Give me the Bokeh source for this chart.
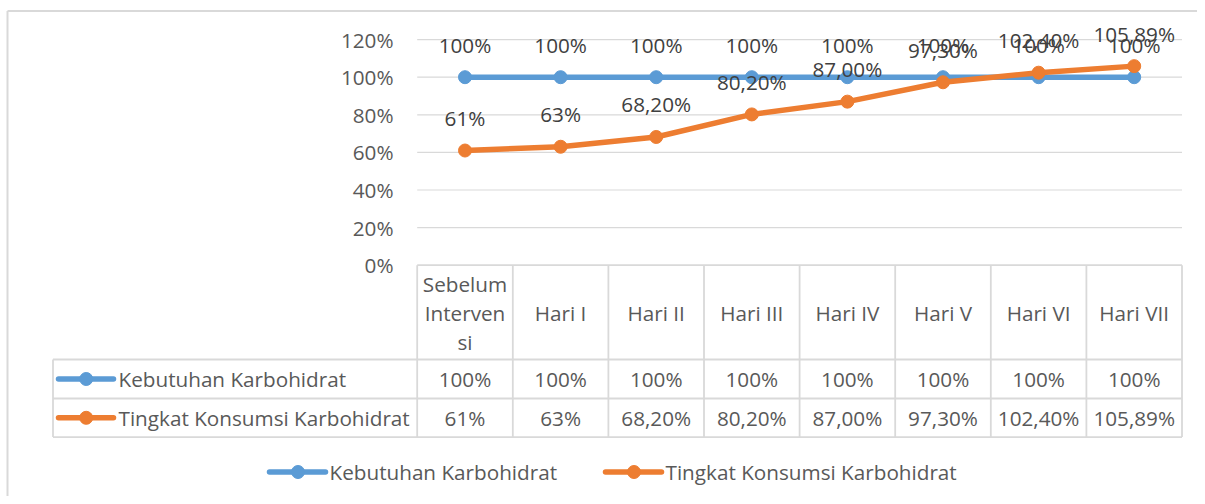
from bokeh.plotting import figure
from bokeh.models import Range1d
from bokeh.core.properties import value
from bokeh.embed import file_html
from bokeh.resources import INLINE

# ---------------- data ----------------
categories = ["Sebelum\nInterven\nsi", "Hari I", "Hari II", "Hari III",
              "Hari IV", "Hari V", "Hari VI", "Hari VII"]
series_names = ["Kebutuhan Karbohidrat", "Tingkat Konsumsi Karbohidrat"]
kebutuhan = [100, 100, 100, 100, 100, 100, 100, 100]
konsumsi = [61, 63, 68.2, 80.2, 87.0, 97.3, 102.4, 105.89]
kebutuhan_labels = ["100%", "100%", "100%", "100%", "100%", "100%", "100%", "100%"]
konsumsi_labels = ["61%", "63%", "68,20%", "80,20%", "87,00%", "97,30%", "102,40%", "105,89%"]
y_ticks = [0, 20, 40, 60, 80, 100, 120]
y_tick_labels = ["0%", "20%", "40%", "60%", "80%", "100%", "120%"]
colors = ["#5B9BD5", "#ED7D31"]

# ---------------- layout (canvas pixels) ----------------
W, H = 1197, 496
X0, CW = 464.5, 95.6      # centre of first category, category width
Y0, PPU = 264.7, 1.88     # pixel of 0 %, pixels per percent
FONT = value("Open Sans")
FS = "20.7px"
TXT = "#595959"
LBL = "#404040"
GRID = "#D9D9D9"


def px2x(px):
    return (px - X0) / CW


def px2y(py):
    return (Y0 - py) / PPU


p = figure(width=W, height=H, output_backend="svg",
           toolbar_location=None, x_axis_type=None, y_axis_type=None,
           x_range=Range1d(px2x(0), px2x(W)),
           y_range=Range1d(px2y(H), px2y(0)),
           min_border=0, outline_line_color=None)
p.xgrid.visible = False
p.ygrid.visible = False

n = len(categories)
idx = list(range(n))
left_cat, right_cat = -0.5, n - 0.5

# chart outer border
p.segment(x0=[px2x(7), px2x(7)], y0=[px2y(10.5), px2y(10.5)],
          x1=[px2x(W), px2x(7)], y1=[px2y(10.5), px2y(H)],
          line_color=GRID, line_width=2)

# gridlines
gy = [t for t in y_ticks if t > 0]
p.segment(x0=[left_cat] * len(gy), y0=gy, x1=[right_cat] * len(gy), y1=gy,
          line_color=GRID, line_width=1.2)

# table
head_bot, row1_bot, row2_bot = px2y(359), px2y(398), px2y(436.6)
tab_left = px2x(52.5)
hx0 = [left_cat, tab_left, tab_left, tab_left]
hy = [0, head_bot, row1_bot, row2_bot]
hx1 = [right_cat] * 4
p.segment(x0=hx0, y0=hy, x1=hx1, y1=hy, line_color=GRID, line_width=1.8)
vx = [left_cat + k for k in range(n + 1)] + [tab_left]
vy0 = [0] * (n + 1) + [head_bot]
p.segment(x0=vx, y0=vy0, x1=vx, y1=[row2_bot] * (n + 2), line_color=GRID, line_width=1.8)

# series
for vals, c in zip([kebutuhan, konsumsi], colors):
    p.line(idx, vals, line_color=c, line_width=5.5, line_join="round")
    p.scatter(idx, vals, size=13, fill_color=c, line_color=c)

# data labels
for vals, labs in zip([kebutuhan, konsumsi], [kebutuhan_labels, konsumsi_labels]):
    p.text(x=idx, y=vals, text=labs, y_offset=-32.5, text_font=FONT, text_font_size=FS,
           text_color=LBL, text_align="center", text_baseline="middle")

# y tick labels
p.text(x=[px2x(393)] * len(y_ticks), y=y_ticks, text=y_tick_labels, text_font=FONT,
       text_font_size=FS, text_color=TXT, text_align="right", text_baseline="middle")

# header (category) labels
hx, hyy, ht = [], [], []
for i, cat in enumerate(categories):
    lines = cat.split("\n")
    k = len(lines)
    for j, ln in enumerate(lines):
        hx.append(i)
        hyy.append(px2y(312 + (j - (k - 1) / 2) * 29))
        ht.append(ln)
p.text(x=hx, y=hyy, text=ht, text_font=FONT, text_font_size=FS, text_color=TXT,
       text_align="center", text_baseline="middle")

# table rows
row_centers = [(head_bot + row1_bot) / 2, (row1_bot + row2_bot) / 2]
for rc, labs, c, name in zip(row_centers, [kebutuhan_labels, konsumsi_labels], colors, series_names):
    p.text(x=idx, y=[rc] * n, text=labs, text_font=FONT, text_font_size=FS, text_color=TXT,
           text_align="center", text_baseline="middle")
    p.segment(x0=[px2x(58)], y0=[rc], x1=[px2x(113)], y1=[rc], line_color=c,
              line_width=5.5, line_cap="round")
    p.scatter([px2x(85.7)], [rc], size=13, fill_color=c, line_color=c)
    p.text(x=[px2x(118)], y=[rc], text=[name], text_font=FONT, text_font_size=FS,
           text_color=TXT, text_align="left", text_baseline="middle")

# bottom legend
leg_y = px2y(471.5)
leg_start = [269, 605]
for s, c, name in zip(leg_start, colors, series_names):
    p.segment(x0=[px2x(s)], y0=[leg_y], x1=[px2x(s + 56)], y1=[leg_y], line_color=c,
              line_width=5.5, line_cap="round")
    p.scatter([px2x(s + 28.5)], [leg_y], size=13, fill_color=c, line_color=c)
    p.text(x=[px2x(s + 60)], y=[leg_y], text=[name], text_font=FONT, text_font_size=FS,
           text_color=TXT, text_align="left", text_baseline="middle")

open("out.html", "w").write(file_html(p, INLINE))
